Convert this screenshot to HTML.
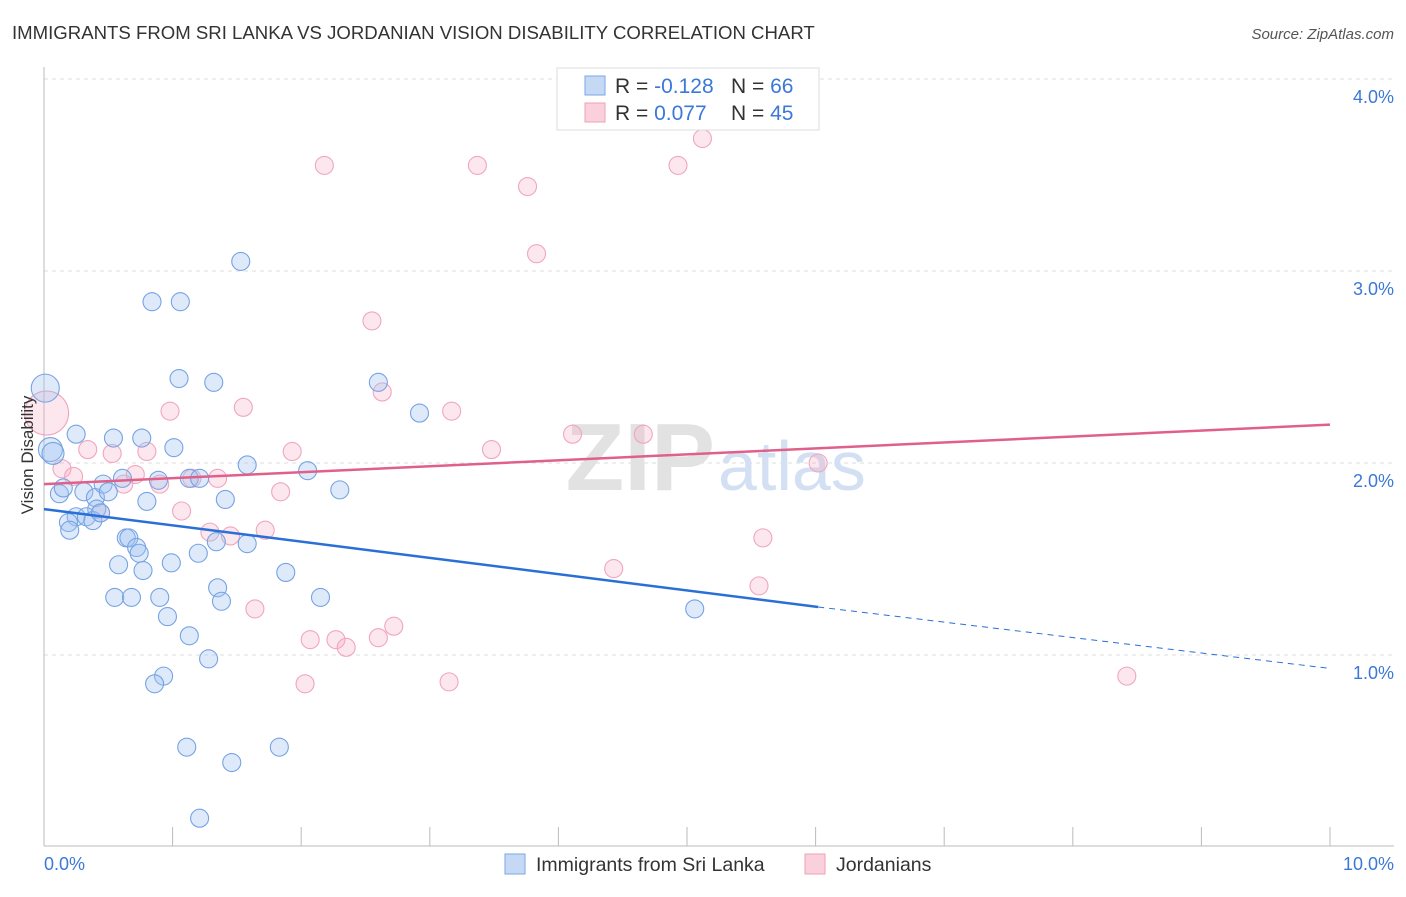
<!DOCTYPE html>
<html><head><meta charset="utf-8"><style>
body{margin:0;background:#fff;font-family:"Liberation Sans",sans-serif;}
svg text{font-family:"Liberation Sans",sans-serif;}
</style></head><body>
<svg width="1406" height="892" viewBox="0 0 1406 892">
<text x="12" y="39" font-size="18.6" fill="#333">IMMIGRANTS FROM SRI LANKA VS JORDANIAN VISION DISABILITY CORRELATION CHART</text>
<text x="1394" y="39" font-size="15" fill="#555" font-style="italic" text-anchor="end">Source: ZipAtlas.com</text>
<g id="grid"></g>
<text x="715" y="490" font-size="96" font-family="Liberation Serif" fill="#e2e2e2" text-anchor="end" font-weight="bold">ZIP</text>
<text x="718" y="490" font-size="70" fill="#d3e0f3">atlas</text>
<line x1="44" y1="67" x2="44" y2="846" stroke="#bbb"/>
<line x1="44" y1="846" x2="1394" y2="846" stroke="#bbb"/>
<g id="marks"></g>
<text transform="translate(33,455) rotate(-90)" font-size="17" fill="#333" text-anchor="middle">Vision Disability</text>
<text x="44" y="870" font-size="18" fill="#3b78d8">0.0%</text>
<text x="1394" y="870" font-size="18" fill="#3b78d8" text-anchor="end">10.0%</text>
<g>
<rect x="557" y="68" width="262" height="62" fill="#fff" stroke="#ddd"/>
<rect x="585" y="76" width="20" height="19" fill="#c5d9f5" stroke="#7aa6e6"/>
<rect x="585" y="103" width="20" height="19" fill="#fad0dc" stroke="#f0a0b8"/>
<text x="615" y="93" font-size="21" fill="#333">R = <tspan fill="#3b78d8">-0.128</tspan><tspan x="731">N = </tspan><tspan fill="#3b78d8">66</tspan></text>
<text x="615" y="120" font-size="21" fill="#333">R = <tspan fill="#3b78d8"> 0.077</tspan><tspan x="731">N = </tspan><tspan fill="#3b78d8">45</tspan></text>
</g>
<g>
<rect x="505" y="854" width="20" height="20" fill="#c5d9f5" stroke="#7aa6e6"/>
<text x="536" y="871" font-size="19.5" fill="#333">Immigrants from Sri Lanka</text>
<rect x="805" y="854" width="20" height="20" fill="#fad0dc" stroke="#f0a0b8"/>
<text x="836" y="871" font-size="19.5" fill="#333">Jordanians</text>
</g>
</svg>
<script>
const yTicks=[1,2,3,4];
const xTicks=[0,1,2,3,4,5,6,7,8,9,10];
const blueX=[0.01,0.05,0.07,0.25,0.54,0.76,1.01,0.12,0.15,0.31,0.40,0.46,0.50,0.61,0.41,0.25,0.33,0.38,0.19,0.20,0.44,0.64,0.66,0.72,0.74,0.58,0.77,0.99,0.80,0.89,1.13,1.21,1.41,1.34,1.58,1.20,1.58,1.32,1.05,0.84,1.06,1.53,2.05,2.30,2.60,2.92,0.55,0.68,0.90,0.96,1.35,1.38,1.88,2.15,1.13,1.28,0.93,0.86,1.11,1.46,1.83,1.21,5.06];
const blueY=[2.39,2.07,2.05,2.15,2.13,2.13,2.08,1.84,1.87,1.85,1.82,1.89,1.85,1.92,1.76,1.72,1.72,1.70,1.69,1.65,1.74,1.61,1.61,1.56,1.53,1.47,1.44,1.48,1.80,1.91,1.92,1.92,1.81,1.59,1.58,1.53,1.99,2.42,2.44,2.84,2.84,3.05,1.96,1.86,2.42,2.26,1.30,1.30,1.30,1.20,1.35,1.28,1.43,1.30,1.10,0.98,0.89,0.85,0.52,0.44,0.52,0.15,1.24];
const pinkX=[0.02,0.14,0.23,0.34,0.53,0.71,0.80,0.90,0.62,0.44,0.98,1.07,1.15,1.35,1.29,1.45,1.55,1.72,1.84,1.93,1.64,2.07,2.27,2.35,2.60,2.72,2.03,3.15,2.18,3.37,3.76,3.83,2.55,2.63,3.17,3.48,4.11,4.66,4.43,4.93,5.12,6.02,5.59,5.56,8.42];
const pinkY=[2.26,1.97,1.93,2.07,2.05,1.94,2.06,1.89,1.89,1.74,2.27,1.75,1.92,1.92,1.64,1.62,2.29,1.65,1.85,2.06,1.24,1.08,1.08,1.04,1.09,1.15,0.85,0.86,3.55,3.55,3.44,3.09,2.74,2.37,2.27,2.07,2.15,2.15,1.45,3.55,3.69,2.00,1.61,1.36,0.89];
const blueR=[14,12,11];const pinkR=[22];
const sx=v=>44+v*128.6, sy=v=>847-v*192;
const NS="http://www.w3.org/2000/svg";
const grid=document.getElementById('grid'),marks=document.getElementById('marks');
yTicks.forEach(t=>{const l=document.createElementNS(NS,'line');
l.setAttribute('x1',44);l.setAttribute('x2',1394);l.setAttribute('y1',sy(t));l.setAttribute('y2',sy(t));
l.setAttribute('stroke','#ddd');l.setAttribute('stroke-dasharray','4,4');


grid.appendChild(l);
const tx=document.createElementNS(NS,'text');tx.setAttribute('x',1394);tx.setAttribute('y',sy(t)+24);
tx.setAttribute('text-anchor','end');tx.setAttribute('font-size','18');tx.setAttribute('fill','#3b78d8');
tx.textContent=t.toFixed(1)+'%';


grid.appendChild(tx);});
xTicks.forEach(t=>{const l=document.createElementNS(NS,'line');
l.setAttribute('x1',sx(t));l.setAttribute('x2',sx(t));l.setAttribute('y1',827);l.setAttribute('y2',846);l.setAttribute('stroke','#bbb');


grid.appendChild(l);});
function dots(xs,ys,rs,fill,stroke,name){xs.forEach((x,i)=>{const c=document.createElementNS(NS,'circle');
c.setAttribute('cx',sx(x));c.setAttribute('cy',sy(ys[i]));c.setAttribute('r',rs[i]||9);
c.setAttribute('fill',fill);c.setAttribute('stroke',stroke);c.setAttribute('stroke-width','1.1');


marks.appendChild(c);});}
dots(pinkX,pinkY,pinkR,'rgba(246,170,195,0.28)','#f0a6be','jordanian-point');
dots(blueX,blueY,blueR,'rgba(160,195,240,0.35)','#76a3e4','sri-lanka-point');
function line(x1,y1,x2,y2,col,w,dash,name){const l=document.createElementNS(NS,'line');
l.setAttribute('x1',sx(x1));l.setAttribute('y1',sy(y1));l.setAttribute('x2',sx(x2));l.setAttribute('y2',sy(y2));
l.setAttribute('stroke',col);l.setAttribute('stroke-width',w);if(dash)l.setAttribute('stroke-dasharray',dash);


marks.appendChild(l);}
const blueTrend=[1.76,1.25,0.93],pinkTrend=[1.89,2.20];
line(0,blueTrend[0],6.02,blueTrend[1],'#2a6fd6',2.5,null,'sri-lanka-trendline');
line(6.02,blueTrend[1],10,blueTrend[2],'#2a6fd6',1,'6,5','sri-lanka-trend-extension');
line(0,pinkTrend[0],10,pinkTrend[1],'#e0608a',2.5,null,'jordanian-trendline');
</script>
</body></html>
